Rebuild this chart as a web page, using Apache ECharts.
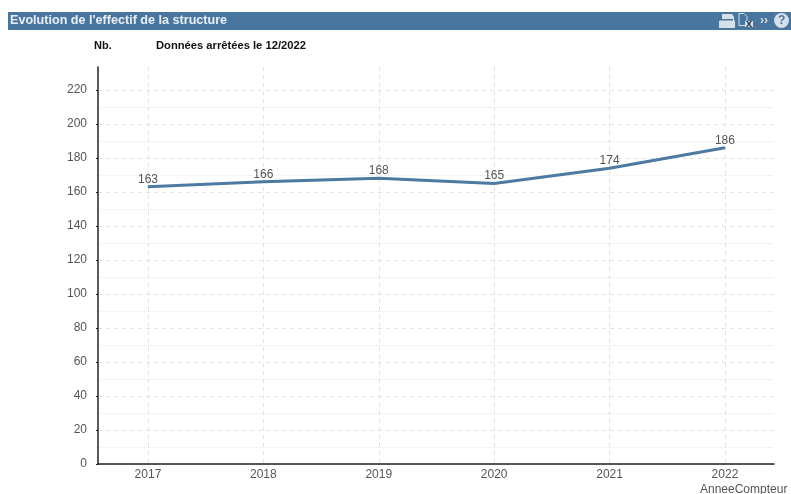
<!DOCTYPE html>
<html><head><meta charset="utf-8">
<script src="https://cdn.jsdelivr.net/npm/echarts@6/dist/echarts.min.js"></script>
<style>html,body{margin:0;padding:0;background:#fff}#c{width:791px;height:494px}</style>
</head><body><div id="c"></div>
<script>
const years = [2017, 2018, 2019, 2020, 2021, 2022];
const effectif = [163, 166, 168, 165, 174, 186];
const yMajorTicks = [0, 20, 40, 60, 80, 100, 120, 140, 160, 180, 200, 220];
const yMinorTicks = [10, 30, 50, 70, 90, 110, 130, 150, 170, 190, 210];
const yMin = 0, yMax = 233.5;
const titleText = "Evolution de l'effectif de la structure";
const unitText = "Nb.";
const noteText = "Données arrêtées le 12/2022";
const xName = "AnneeCompteur";
const FONT = '"Liberation Sans", Arial, sans-serif';
const BAND = '#48769f', ICON = '#d5e0ea';

const chart = echarts.init(document.getElementById('c'), null, {renderer: 'canvas'});
chart.setOption({
  animation: false,
  backgroundColor: '#fff',
  grid: {left: 98, right: 17, top: 67, bottom: 30, containLabel: false},
  xAxis: {
    type: 'value', min: 2016.567, max: 2022.425,
    axisLine: {show: true, onZero: false, lineStyle: {color: '#222', width: 1.5}},
    axisTick: {show: false, customValues: years},
    axisLabel: {customValues: years, color: '#555', fontFamily: FONT, fontSize: 12, margin: 5,
      formatter: v => String(v), showMinLabel: true, showMaxLabel: true},
    splitLine: {show: true, lineStyle: {color: '#e2e2e2', type: [4, 4], width: 1}}
  },
  yAxis: [{
    type: 'value', min: yMin, max: yMax,
    axisLine: {show: true, lineStyle: {color: '#222', width: 1.5}},
    axisTick: {show: true, length: 2, lineStyle: {color: '#222'}, customValues: yMajorTicks},
    axisLabel: {customValues: yMajorTicks, color: '#555', fontFamily: FONT, fontSize: 12, margin: 11, padding: [2, 0, 0, 0]},
    splitLine: {show: true, lineStyle: {color: '#e2e2e2', type: [4, 4], width: 1}}
  }, {
    type: 'value', min: yMin, max: yMax, position: 'left',
    axisLine: {show: false},
    axisTick: {show: false, customValues: yMinorTicks},
    axisLabel: {show: false, customValues: yMinorTicks},
    splitLine: {show: true, lineStyle: {color: '#e8e8e8', type: [1, 1], width: 1}}
  }],
  series: [{
    type: 'line',
    yAxisIndex: 0,
    data: years.map((y, i) => [y, effectif[i]]),
    showSymbol: true, symbol: 'circle', symbolSize: 1,
    itemStyle: {color: '#4c7aa3'},
    lineStyle: {color: '#4c7aa3', width: 3},
    label: {show: true, position: 'top', distance: 1, color: '#555', fontFamily: FONT, fontSize: 12,
      formatter: p => p.value[1]},
    z: 5
  }],
  graphic: [
    {type: 'rect', shape: {x: 8, y: 12, width: 783, height: 18}, style: {fill: BAND}, silent: true},
    {type: 'text', x: 10, y: 14, style: {text: titleText, fill: '#e9eff4', font: 'bold 12.6px ' + FONT}},
    {type: 'text', x: 94, y: 40, style: {text: unitText, fill: '#111', font: 'bold 11px ' + FONT}},
    {type: 'text', x: 156, y: 40, style: {text: noteText, fill: '#111', font: 'bold 11.2px ' + FONT}},
    {type: 'text', x: 700, y: 484, style: {text: xName, fill: '#555', font: '12px ' + FONT}},
    // toolbar icons
    {type: 'polygon', shape: {points: [[722,14],[732,14],[734,17],[734,20],[735,21],[735,28],[719,28],[719,21],[722,20]]}, style: {fill: ICON}},
    {type: 'rect', shape: {x: 721, y: 19, width: 12, height: 1.5}, style: {fill: BAND}},
    {type: 'polygon', shape: {points: [[739,13.5],[744,13.5],[747,16.5],[747,25.5],[739,25.5]]}, style: {fill: BAND, stroke: ICON, lineWidth: 1}},
    {type: 'rect', shape: {x: 745, y: 21, width: 8, height: 6}, style: {fill: ICON}},
    {type: 'text', x: 746, y: 18, style: {text: 'x', fill: '#26323c', font: 'bold 11px ' + FONT}},
    {type: 'text', x: 760, y: 15, style: {text: '››', fill: ICON, font: 'bold 12px ' + FONT}},
    {type: 'circle', shape: {cx: 781.5, cy: 20.5, r: 7.5}, style: {fill: ICON}},
    {type: 'text', x: 778, y: 15, style: {text: '?', fill: BAND, font: 'bold 12px ' + FONT}}
  ]
});
</script></body></html>
